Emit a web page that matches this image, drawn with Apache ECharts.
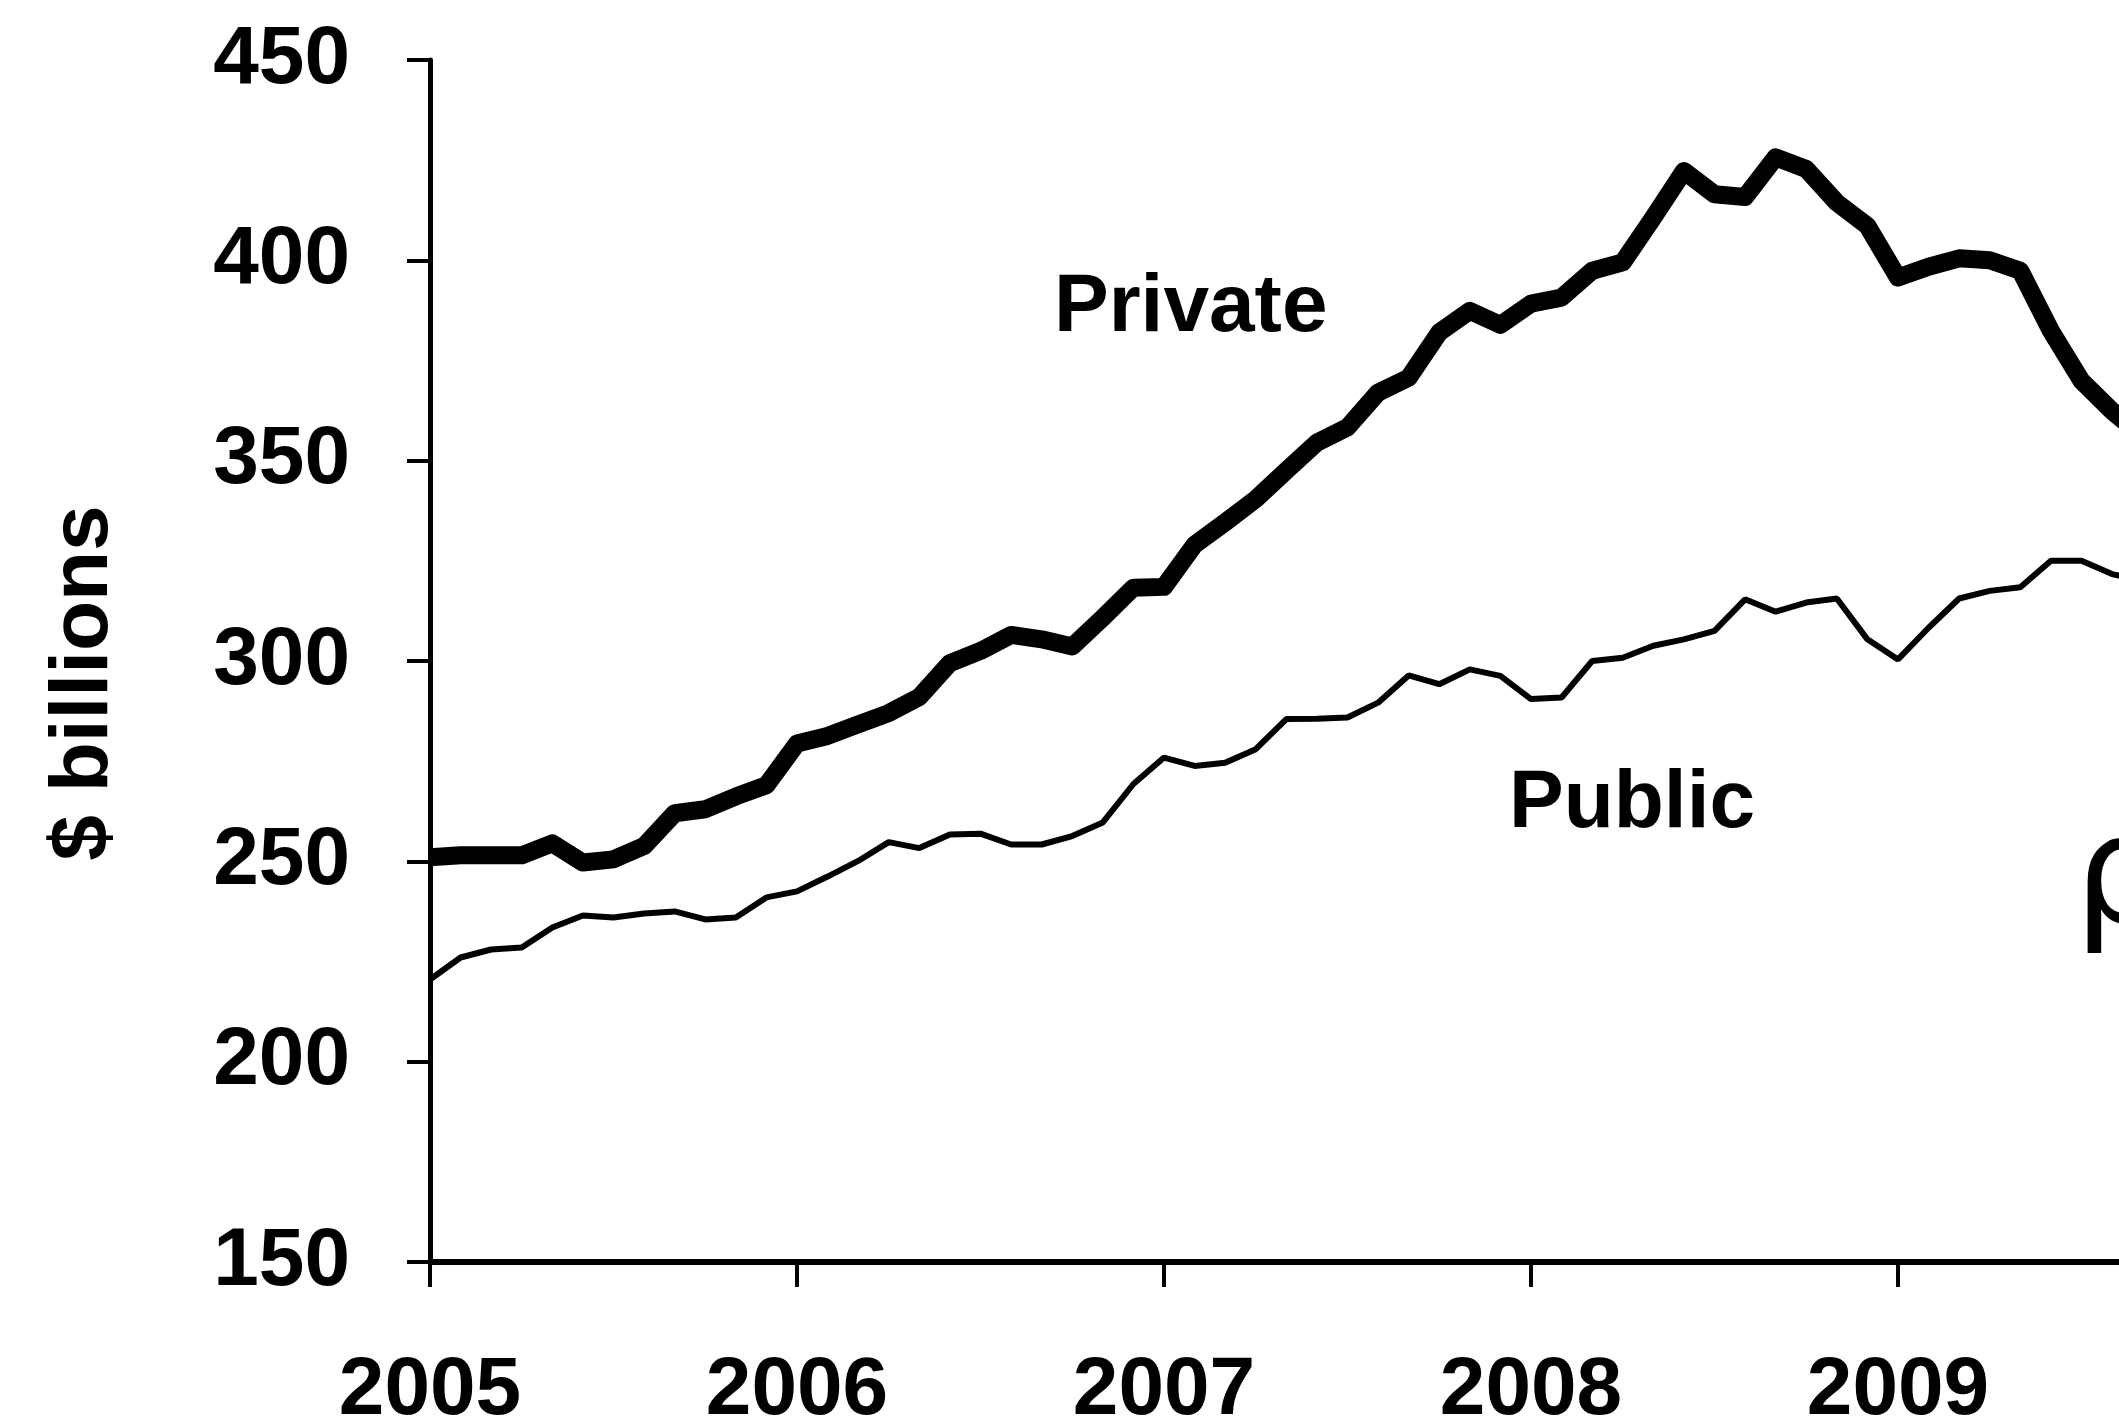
<!DOCTYPE html>
<html>
<head>
<meta charset="utf-8">
<script src="https://cdn.jsdelivr.net/npm/echarts@6/dist/echarts.min.js"></script>
<style>
html,body{margin:0;padding:0;background:#fff;}
#c{width:2119px;height:1428px;}
</style>
</head>
<body>
<div id="c"></div>
<script>
// Monthly data starting January 2005
var startYear = 2005;
var yearTicks = [2005, 2006, 2007, 2008, 2009, 2010];
var privateVals = [251, 251.5, 251.5, 251.5, 254.5, 249.7, 250.5, 253.8, 262, 263, 266.2, 269,
  279.4, 281.3, 284.2, 287, 291, 299.5, 302.5, 306.5, 305.4, 303.6, 310.8, 318.3,
  318.5, 329, 334.6, 340.4, 347.5, 354.5, 358.3, 367, 370.7, 382, 387.4, 383.9,
  389.2, 390.7, 397.4, 399.5, 410.7, 422.3, 416.5, 415.8, 425.7, 422.8, 414.4, 408.6,
  395.7, 398.4, 400.5, 400, 397.4, 382.4, 369.9, 362.4, 356];
var publicVals = [220.5, 226, 228, 228.5, 233.5, 236.5, 236, 237, 237.5, 235.5, 236, 241,
  242.5, 246.2, 250.1, 254.8, 253.3, 256.7, 256.9, 254.2, 254.2, 256.3, 259.7, 269.3,
  275.9, 273.8, 274.6, 278, 285.5, 285.6, 285.9, 289.6, 296.4, 294.2, 297.9, 296.3,
  290.5, 290.9, 300, 300.8, 303.8, 305.4, 307.5, 315.4, 312.3, 314.6, 315.6, 305.4,
  300.4, 308.3, 315.6, 317.5, 318.4, 325, 325, 321.7, 320];
var seriesNames = ['Private', 'Public'];
var yAxisTitle = '$ billions';

function toPairs(vals) {
  return vals.map(function (v, i) { return [startYear + i / 12, v]; });
}

var font = '"Liberation Sans", Arial, Helvetica, sans-serif';
var chart = echarts.init(document.getElementById('c'));
chart.setOption({
  backgroundColor: '#ffffff',
  animation: false,
  grid: { left: 430, width: 1835, top: 60, height: 1202, containLabel: false, outerBoundsMode: 'none' },
  xAxis: {
    type: 'value',
    min: yearTicks[0],
    max: yearTicks[yearTicks.length - 1],
    interval: 1,
    axisLine: { show: true, lineStyle: { color: '#000', width: 6 } },
    axisTick: { show: true, length: 25, inside: false, lineStyle: { color: '#000', width: 4 } },
    axisLabel: {
      margin: 88, color: '#000', fontSize: 82, fontWeight: 'bold', fontFamily: font,
      formatter: function (v) { return String(Math.round(v)); }
    },
    splitLine: { show: false }
  },
  yAxis: {
    type: 'value',
    min: 150, max: 450, interval: 50,
    axisLine: { show: true, lineStyle: { color: '#000', width: 5 } },
    axisTick: { show: true, length: 23, inside: false, lineStyle: { color: '#000', width: 4 } },
    axisLabel: { margin: 80, color: '#000', fontSize: 82, fontWeight: 'bold', fontFamily: font },
    splitLine: { show: false }
  },
  graphic: [
    { type: 'text', x: 84, y: 683, rotation: Math.PI / 2,
      style: { text: yAxisTitle, fill: '#000', font: 'bold 82px ' + font, align: 'center', verticalAlign: 'middle' } },
    { type: 'text', left: 1054, top: 267, style: { text: seriesNames[0], fill: '#000', font: 'bold 82px ' + font } },
    { type: 'text', left: 1509, top: 763, style: { text: seriesNames[1], fill: '#000', font: 'bold 82px ' + font } },
    { type: 'text', left: 2074, top: 808, style: { text: 'ρ', fill: '#000', font: '150px "DejaVu Sans"' } }
  ],
  series: [
    {
      name: seriesNames[0], type: 'line', data: toPairs(privateVals), showSymbol: false, symbol: 'none',
      lineStyle: { color: '#000', width: 18, join: 'round' }, clip: true
    },
    {
      name: seriesNames[1], type: 'line', data: toPairs(publicVals), showSymbol: false, symbol: 'none',
      lineStyle: { color: '#000', width: 6 }, clip: true
    }
  ]
});
</script>
</body>
</html>
